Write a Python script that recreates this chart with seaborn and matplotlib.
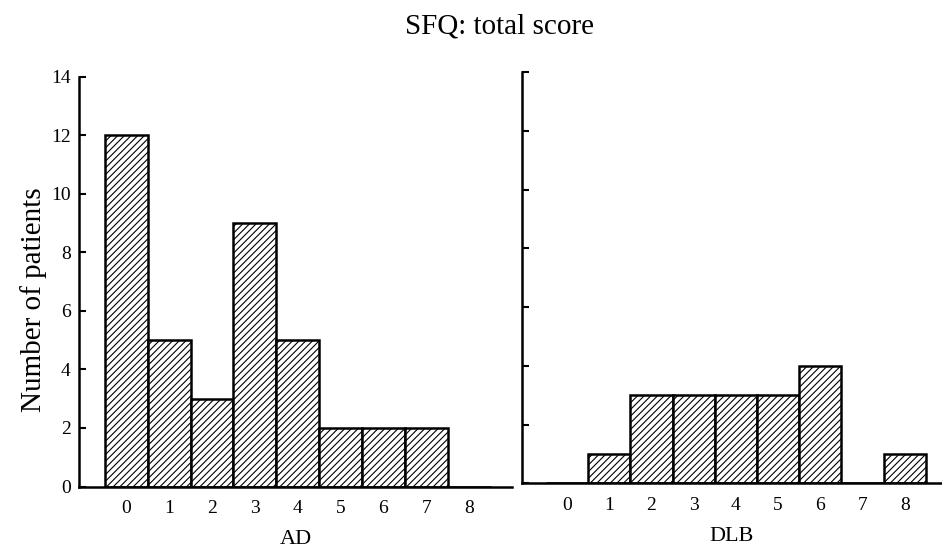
import seaborn as sns
import matplotlib.pyplot as plt
import pandas as pd

sns.set_theme(style='ticks')
plt.rcParams['font.family'] = ['Liberation Serif', 'DejaVu Serif']
plt.rcParams['hatch.linewidth'] = 0.8
for key in ['text.color', 'axes.labelcolor', 'xtick.color', 'ytick.color',
            'axes.edgecolor']:
    plt.rcParams[key] = 'black'

scores = [0, 1, 2, 3, 4, 5, 6, 7, 8]
ad_counts = [12, 5, 3, 9, 5, 2, 2, 2, 0]
dlb_counts = [0, 1, 3, 3, 3, 3, 4, 0, 1]
y_ticks = [0, 2, 4, 6, 8, 10, 12, 14]


def panel(ax, counts, label, xlim, show_labels):
    df = pd.DataFrame({'score': scores, 'count': counts})
    sns.barplot(ax=ax, data=df, x='score', y='count', order=scores,
                color='white', edgecolor='black', linewidth=1.8,
                width=1.0, hatch='/////', saturation=1)
    for p in ax.patches:
        p.set_facecolor('white')
    ax.set_xlim(*xlim)
    ax.set_ylim(0, 14)
    ax.set_yticks(y_ticks)
    if not show_labels:
        ax.set_yticklabels([])
    ax.tick_params(axis='y', direction='in', length=5, width=1.5,
                   labelsize=14, pad=6)
    ax.tick_params(axis='x', length=0, labelsize=14, pad=10)
    ax.set_xlabel(label, fontsize=16, labelpad=9)
    ax.set_ylabel('')
    for side in ['top', 'right']:
        ax.spines[side].set_visible(False)
    for side in ['left', 'bottom']:
        ax.spines[side].set_linewidth(1.8)


fig = plt.figure(figsize=(9.42, 5.51), dpi=100)
ax1 = fig.add_axes([0.0839, 0.117, 0.4597, 0.744])
ax2 = fig.add_axes([0.554, 0.123, 0.4459, 0.746])

panel(ax1, ad_counts, 'AD', (-1.1, 9.0), True)
panel(ax2, dlb_counts, 'DLB', (-1.07, 8.88), False)

ax1.set_ylabel('Number of patients', fontsize=21)
ax1.yaxis.set_label_coords(-0.073, 0.455)
fig.suptitle('SFQ: total score', x=0.53, y=0.975, fontsize=21)

plt.savefig('out.png', dpi=100)
